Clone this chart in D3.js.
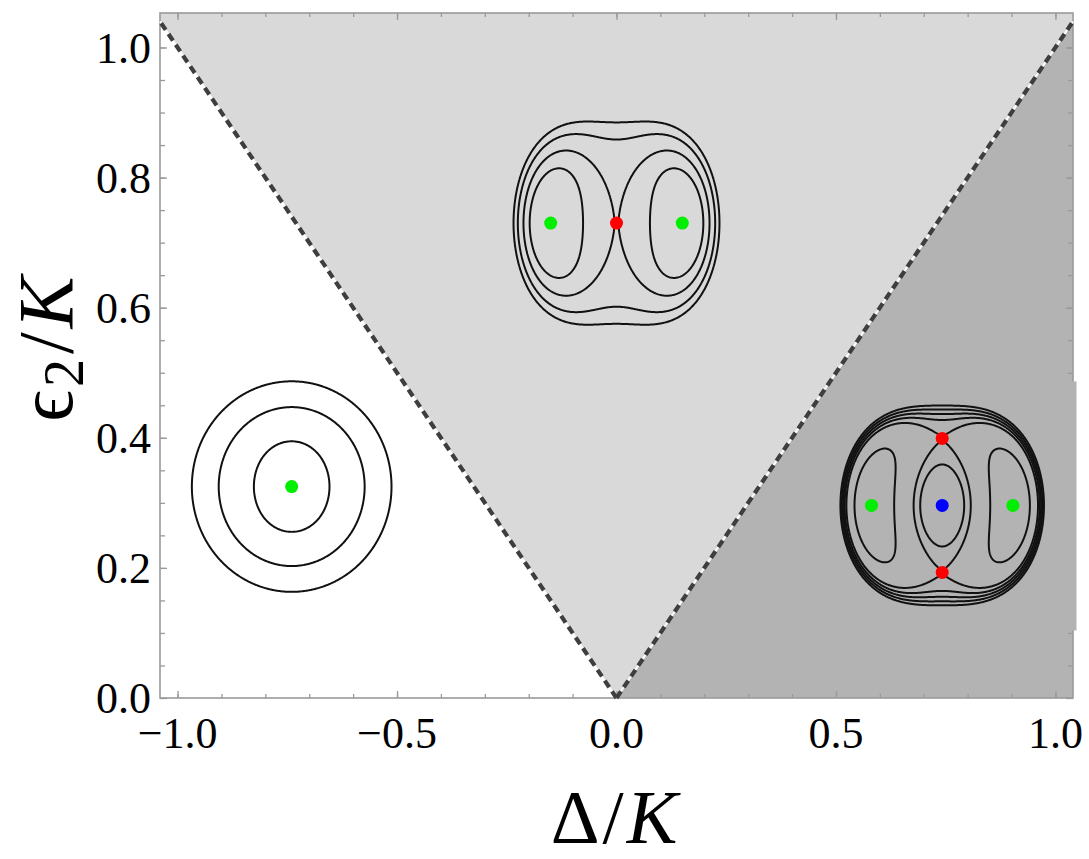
<!DOCTYPE html>
<html>
<head>
<meta charset="utf-8">
<script src="https://cdn.jsdelivr.net/npm/d3@7"></script>
<style>
  html, body { margin: 0; padding: 0; background: #fff; }
  svg { display: block; }
  text { font-family: "Liberation Serif", "DejaVu Serif", serif; fill: #000; }
</style>
</head>
<body>
<svg id="chart" width="1089" height="859"></svg>
<script>
// ---- axis ranges and ticks ----
const xDomain = [-1.04, 1.04];
const yDomain = [0, 1.053];
const xMajorTicks = [-1.0, -0.5, 0.0, 0.5, 1.0];
const xTickLabels = ["\u22121.0", "\u22120.5", "0.0", "0.5", "1.0"];
const xMinorTicks = [-1.0, -0.9, -0.8, -0.7, -0.6, -0.5, -0.4, -0.3, -0.2, -0.1, 0.0,
                     0.1, 0.2, 0.3, 0.4, 0.5, 0.6, 0.7, 0.8, 0.9, 1.0];
const yMajorTicks = [0.0, 0.2, 0.4, 0.6, 0.8, 1.0];
const yTickLabels = ["0.0", "0.2", "0.4", "0.6", "0.8", "1.0"];
const yMinorTicks = [0.05, 0.1, 0.15, 0.2, 0.25, 0.3, 0.35, 0.4, 0.45, 0.5,
                     0.55, 0.6, 0.65, 0.7, 0.75, 0.8, 0.85, 0.9, 0.95, 1.0];

// ---- phase regions (Δ/K, ε2/K) ----
// ε2 = |Δ| separates the three regimes
const boundaryLeft  = [[0, 0], [-1.04, 1.04]];
const boundaryRight = [[0, 0], [1.04, 1.04]];
const upperRegion = [[0, 0], [1.04, 1.04], [1.04, 1.053], [-1.04, 1.053], [-1.04, 1.04]];
const lowerRightRegion = [[0, 0], [1.04, 0], [1.04, 1.04]];

// ---- phase-space portraits placed at (Δ, ε2) ----
const insetDelta = [-0.74, 0.0, 0.742];
const insetEps2  = [0.325, 0.73, 0.296];
// energy surface  H = a x^4 + b p^4 + c x^2 p^2 + B x^2 + C p^2
const coefX4   = [1, 1, 1];
const coefP4   = [1, 0.168, 0.3745];
const coefX2P2 = [2, 0.68, 1.06];
const coefX2   = [2.11, -2, -2];
const coefP2   = [1.047, 0.076, -0.673];
// energy levels drawn in each portrait
const contourLevels = [
  [1.533, 9.03, 24.3],
  [-0.45, -0.002, 0.56, 1.10],
  [-0.71, -0.300, -0.184, -0.08, 0.03, 0.15]
];
// levels where only the outer ring is drawn
const outerRingOnly = [[], [], [-0.08]];
// fixed points (phase coordinates) and their kind
const fixedX    = [[0], [-1, 0, 1], [-1, 1, 0, 0, 0]];
const fixedP    = [[0], [0, 0, 0], [0, 0, 0, 0.948, -0.948]];
const fixedKind = [["min"], ["min", "saddle", "min"], ["min", "min", "max", "saddle", "saddle"]];

// ---- layout / style ----
const frame = { left: 160, right: 1073, top: 13, bottom: 698 };
const insetUnit = [50, 65.8, 70.7];     // px per phase-space unit
const insetExtent = [2.4, 1.8, 1.7];    // half-width of sampled phase space
const gridSize = 301;
const fillUpper = "#d9d9d9", fillLower = "#b3b3b3";
const axisGray = "#9a9a9a";
const dotColor = { min: "#00ee00", saddle: "#ff0000", max: "#0000ff" };

const svg = d3.select("#chart");
const x = d3.scaleLinear().domain(xDomain).range([frame.left, frame.right]);
const y = d3.scaleLinear().domain(yDomain).range([frame.bottom, frame.top]);
const dataLine = d3.line().x(d => x(d[0])).y(d => y(d[1]));

// shaded regimes
svg.append("path").attr("d", dataLine(upperRegion) + "Z").attr("fill", fillUpper);
svg.append("path").attr("d", dataLine(lowerRightRegion) + "Z").attr("fill", fillLower);

// frame
svg.append("rect")
  .attr("x", frame.left).attr("y", frame.top)
  .attr("width", frame.right - frame.left).attr("height", frame.bottom - frame.top)
  .attr("fill", "none").attr("stroke", axisGray).attr("stroke-width", 1.6);

// inward ticks on all four sides
function ticks(axis, values, size, transform) {
  svg.append("g").attr("transform", transform)
    .call(axis.tickValues(values).tickSize(size).tickSizeOuter(0).tickFormat(""))
    .call(g => g.select(".domain").remove())
    .call(g => g.selectAll(".tick line").attr("stroke", axisGray).attr("stroke-width", 1.3));
}
ticks(d3.axisBottom(x), xMinorTicks, -4, `translate(0,${frame.bottom})`);
ticks(d3.axisBottom(x), xMajorTicks, -7, `translate(0,${frame.bottom})`);
ticks(d3.axisTop(x), xMinorTicks, -4, `translate(0,${frame.top})`);
ticks(d3.axisTop(x), xMajorTicks, -7, `translate(0,${frame.top})`);
ticks(d3.axisLeft(y), yMinorTicks, -5, `translate(${frame.left},0)`);
ticks(d3.axisLeft(y), yMajorTicks, -7, `translate(${frame.left},0)`);
ticks(d3.axisRight(y), yMinorTicks, -5, `translate(${frame.right},0)`);
ticks(d3.axisRight(y), yMajorTicks, -7, `translate(${frame.right},0)`);

// tick labels
svg.append("g").selectAll("text").data(xMajorTicks).join("text")
  .attr("x", d => x(d)).attr("y", 748)
  .attr("text-anchor", "middle").style("font-size", "44px")
  .text((d, i) => xTickLabels[i]);
svg.append("g").selectAll("text").data(yMajorTicks).join("text")
  .attr("x", 151).attr("y", d => y(d)).attr("dy", "0.35em")
  .attr("text-anchor", "end").style("font-size", "44px")
  .text((d, i) => yTickLabels[i]);

// axis titles
const xTitle = svg.append("text").attr("x", 614).attr("y", 843)
  .attr("text-anchor", "middle").style("font-size", "76px");
xTitle.append("tspan").text("\u0394");
xTitle.append("tspan").attr("dx", 3).text("/");
xTitle.append("tspan").attr("dx", 3).attr("font-style", "italic").text("K");

const yTitle = svg.append("text").attr("transform", "translate(72,349) rotate(-90)")
  .attr("text-anchor", "middle").style("font-size", "78px");
yTitle.append("tspan").text("\u03f5");
yTitle.append("tspan").style("font-size", "56px").attr("dx", 3).attr("dy", 11).text("2");
yTitle.append("tspan").attr("dx", 5).attr("dy", -11).text("/");
yTitle.append("tspan").attr("dx", 4).attr("font-style", "italic").text("K");

// backdrop of the right portrait (extends over the right frame)
{
  const cx = x(insetDelta[2]), cy = y(insetEps2[2]);
  svg.append("rect")
    .attr("x", cx - 40).attr("y", cy - 124)
    .attr("width", frame.right + 3.5 - (cx - 40)).attr("height", 249)
    .attr("fill", fillLower);
}

// regime boundaries
[boundaryLeft, boundaryRight].forEach(b => {
  svg.append("path").attr("d", dataLine(b)).attr("fill", "none")
    .attr("stroke", "#ffffff").attr("stroke-width", 2);
  svg.append("path").attr("d", dataLine(b)).attr("fill", "none")
    .attr("stroke", "#3e3e3e").attr("stroke-width", 4.2)
    .attr("stroke-dasharray", "8 5");
});

// phase-space portraits
function energy(k, xv, pv) {
  const x2 = xv * xv, p2 = pv * pv;
  return coefX4[k] * x2 * x2 + coefP4[k] * p2 * p2 + coefX2P2[k] * x2 * p2
       + coefX2[k] * x2 + coefP2[k] * p2;
}

const contourGen = d3.contours().size([gridSize, gridSize]);

insetDelta.forEach((delta, k) => {
  const cx = x(insetDelta[k]), cy = y(insetEps2[k]);
  const R = insetExtent[k], u = insetUnit[k];
  const toPhase = d3.scaleLinear().domain([0.5, gridSize - 0.5]).range([-R, R]);
  const sx = d3.scaleLinear().domain([-1, 1]).range([cx - u, cx + u]);
  const sy = d3.scaleLinear().domain([-1, 1]).range([cy + u, cy - u]);

  const values = new Float64Array(gridSize * gridSize);
  for (let j = 0; j < gridSize; j++) {
    const pv = toPhase(j + 0.5);
    for (let i = 0; i < gridSize; i++) {
      values[i + j * gridSize] = -energy(k, toPhase(i + 0.5), pv);
    }
  }

  const ring = d3.line()
    .x(d => sx(toPhase(d[0])))
    .y(d => sy(toPhase(d[1])))
    .curve(d3.curveLinearClosed);

  const g = svg.append("g");
  contourLevels[k].forEach(level => {
    const mp = contourGen.contour(values, -level);
    const outerOnly = outerRingOnly[k].includes(level);
    mp.coordinates.forEach(poly => {
      poly.forEach((r, idx) => {
        if (outerOnly && idx > 0) return;
        g.append("path").attr("d", ring(r))
          .attr("fill", "none").attr("stroke", "#111")
          .attr("stroke-width", 2).attr("stroke-linejoin", "round");
      });
    });
  });

  g.selectAll("circle").data(fixedX[k]).join("circle")
    .attr("cx", d => sx(d))
    .attr("cy", (d, i) => sy(fixedP[k][i]))
    .attr("r", 6.5)
    .attr("fill", (d, i) => dotColor[fixedKind[k][i]]);
});
</script>
</body>
</html>
